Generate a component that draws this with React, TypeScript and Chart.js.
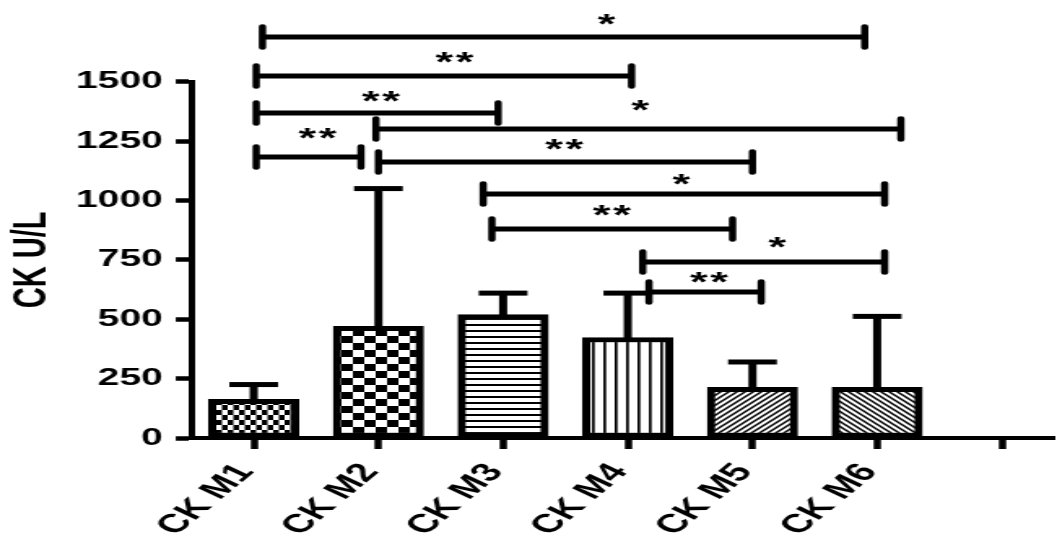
import React, { useEffect, useRef } from 'react';
import { Chart, registerables } from 'chart.js';

Chart.register(...registerables);

// ---- data ----
const categories = ['CK M1', 'CK M2', 'CK M3', 'CK M4', 'CK M5', 'CK M6', ''];
const means = [163, 470, 520, 423, 213, 213];
const upperErrors = [225, 1050, 610, 610, 320, 512];
const yTicks = [0, 250, 500, 750, 1000, 1250, 1500];

// significance brackets (x in category units, level in CK U/L units)
const bracketFrom = [0.07, 0.02, 0.02, 0.98, 0.02, 1.0, 1.84, 1.91, 3.12, 3.17];
const bracketTo = [4.9, 3.03, 1.96, 5.19, 0.86, 4.0, 5.06, 3.84, 5.06, 4.07];
const bracketLevel = [1688, 1524, 1368, 1301, 1183, 1162, 1027, 880, 741, 615];
const bracketLabel = ['*', '**', '**', '*', '**', '**', '*', '**', '*', '**'];
const starX = [2.83, 1.61, 1.02, 3.1, 0.51, 2.49, 3.43, 2.87, 4.2, 3.65];
const starLevel = [1760, 1600, 1436, 1398, 1284, 1234, 1090, 956, 825, 674];

// ---- drawing setup ----
const INNER_W = 650;
const OUT_W = 1057;
const H = 537;
const FONT = '"Liberation Sans", Arial, sans-serif';

function makePattern(w: number, h: number, draw: (g: CanvasRenderingContext2D) => void) {
  const c = document.createElement('canvas');
  c.width = w;
  c.height = h;
  const g = c.getContext('2d')!;
  g.fillStyle = '#fff';
  g.fillRect(0, 0, w, h);
  g.fillStyle = '#000';
  g.strokeStyle = '#000';
  draw(g);
  return g.createPattern(c, 'repeat')!;
}

function buildPatterns() {
  return [
    makePattern(7, 10, (g) => {
      g.fillRect(0, 0, 3.5, 5);
      g.fillRect(3.5, 5, 3.5, 5);
    }),
    makePattern(14, 14, (g) => {
      g.fillRect(0, 0, 7, 7);
      g.fillRect(7, 7, 7, 7);
    }),
    makePattern(1, 6, (g) => {
      g.fillRect(0, 0, 1, 2);
    }),
    makePattern(7, 1, (g) => {
      g.fillRect(0, 0, 1.7, 1);
    }),
    makePattern(5, 5, (g) => {
      g.lineWidth = 1.5;
      g.beginPath();
      g.moveTo(-1, 6); g.lineTo(6, -1);
      g.moveTo(-1, 1); g.lineTo(1, -1);
      g.moveTo(4, 6); g.lineTo(6, 4);
      g.stroke();
    }),
    makePattern(5, 5, (g) => {
      g.lineWidth = 1.5;
      g.beginPath();
      g.moveTo(-1, -1); g.lineTo(6, 6);
      g.moveTo(4, -1); g.lineTo(6, 1);
      g.moveTo(-1, 4); g.lineTo(1, 6);
      g.stroke();
    }),
  ];
}

const overlay = {
  id: 'overlay',
  afterDatasetsDraw(chart: any) {
    const { ctx } = chart;
    const x = chart.scales.x;
    const y = chart.scales.y;
    ctx.save();
    ctx.strokeStyle = '#000';
    ctx.fillStyle = '#000';
    // error bars
    means.forEach((m, i) => {
      const px = x.getPixelForValue(i);
      const y0 = y.getPixelForValue(m) + 2;
      const y1 = y.getPixelForValue(upperErrors[i]);
      ctx.lineWidth = 5;
      ctx.lineCap = 'butt';
      ctx.beginPath();
      ctx.moveTo(px, y0);
      ctx.lineTo(px, y1);
      ctx.stroke();
      ctx.lineWidth = 5;
      ctx.beginPath();
      ctx.moveTo(px - 15, y1);
      ctx.lineTo(px + 15, y1);
      ctx.stroke();
    });
    // brackets
    bracketFrom.forEach((f, i) => {
      const x0 = x.getPixelForValue(f);
      const x1 = x.getPixelForValue(bracketTo[i]);
      const py = y.getPixelForValue(bracketLevel[i]);
      ctx.lineCap = 'butt';
      ctx.lineWidth = 5;
      ctx.beginPath();
      ctx.moveTo(x0, py);
      ctx.lineTo(x1, py);
      ctx.stroke();
      ctx.lineCap = 'round';
      ctx.lineWidth = 4.5;
      ctx.beginPath();
      ctx.moveTo(x0, py - 10.5);
      ctx.lineTo(x0, py + 10.5);
      ctx.moveTo(x1, py - 10.5);
      ctx.lineTo(x1, py + 10.5);
      ctx.stroke();
    });
    // stars
    ctx.font = `bold 28px ${FONT}`;
    ctx.textAlign = 'center';
    ctx.textBaseline = 'alphabetic';
    const m = ctx.measureText('*');
    const yOff = (m.actualBoundingBoxAscent - m.actualBoundingBoxDescent) / 2;
    bracketLabel.forEach((lab, i) => {
      const cx = x.getPixelForValue(starX[i]);
      const cy = y.getPixelForValue(starLevel[i]);
      const n = lab.length;
      for (let k = 0; k < n; k++) {
        const sx = cx + (k - (n - 1) / 2) * 12.5;
        ctx.fillText('*', sx, cy + yOff);
      }
    });
    ctx.restore();
  },
};

export default function App() {
  const ref = useRef<HTMLCanvasElement>(null);
  useEffect(() => {
    document.body.style.margin = '0';
    const canvas = ref.current!;
    const patterns = buildPatterns();
    const chart = new Chart(canvas, {
      type: 'bar',
      data: {
        datasets: [
          {
            data: means.map((m, i) => ({ x: i, y: m })),
            backgroundColor: patterns as any,
            borderColor: '#000',
            borderWidth: 5,
            borderSkipped: false,
            barThickness: 55.4,
          } as any,
        ],
      },
      options: {
        animation: false,
        responsive: false,
        events: [],
        layout: { padding: { top: 81.7, left: 0, right: 0, bottom: 0 } },
        plugins: { legend: { display: false }, tooltip: { enabled: false } },
        scales: {
          x: {
            type: 'linear',
            offset: false,
            min: -0.495,
            max: 6.424,
            afterBuildTicks: (s: any) => {
              s.ticks = categories.map((_, i) => ({ value: i }));
            },
            afterFit: (s: any) => {
              s.height = 99;
            },
            grid: {
              display: true,
              offset: false,
              drawOnChartArea: false,
              drawTicks: true,
              tickLength: 11,
              tickWidth: 4.5,
              tickColor: '#000',
              color: '#000',
            },
            border: { display: true, color: '#000', width: 4 },
            ticks: {
              autoSkip: false,
              minRotation: 53,
              maxRotation: 53,
              padding: 9,
              labelOffset: -5,
              color: '#000',
              font: { family: FONT, size: 26, weight: 'bold' },
              callback: (v: any) => categories[v as number] ?? '',
            },
          } as any,
          y: {
            type: 'linear',
            min: 0,
            max: 1500,
            afterBuildTicks: (s: any) => {
              s.ticks = yTicks.map((v) => ({ value: v }));
            },
            afterFit: (s: any) => {
              s.width = 118.08;
            },
            grid: {
              display: true,
              drawOnChartArea: false,
              drawTicks: true,
              tickLength: 10,
              tickWidth: 4.5,
              tickColor: '#000',
              color: '#000',
            },
            border: { display: true, color: '#000', width: 4 },
            ticks: {
              padding: 8,
              color: '#000',
              font: { family: FONT, size: 24, weight: 'bold' },
              callback: (v: any) => String(v),
            },
            title: {
              display: true,
              text: 'CK U/L',
              color: '#000',
              font: { family: FONT, size: 29, weight: 'bold' },
              padding: { top: 3, bottom: 0 },
            },
          } as any,
        },
      },
      plugins: [overlay],
    });
    return () => chart.destroy();
  }, []);
  return (
    <canvas
      ref={ref}
      width={INNER_W}
      height={H}
      style={{ display: 'block', width: `${OUT_W}px`, height: `${H}px` }}
    />
  );
}
